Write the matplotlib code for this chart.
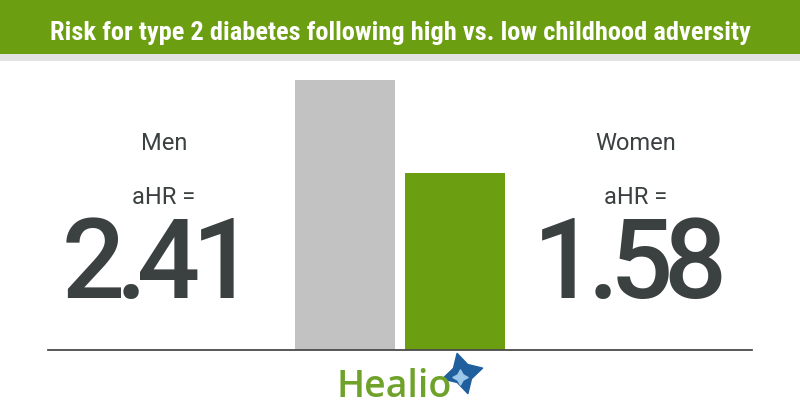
import matplotlib
matplotlib.use("Agg")
import matplotlib.pyplot as plt
from matplotlib.patches import Rectangle

# Data
groups = ["Men", "Women"]
ahr = [2.41, 1.58]
bar_colors = ["#c2c2c2", "#6b9e10"]
title = "Risk for type 2 diabetes following high vs. low childhood adversity"

W, H = 800, 420
fig = plt.figure(figsize=(8, 4.2), dpi=100)
fig.patch.set_facecolor("white")
renderer = fig.canvas.get_renderer()


def fx(px):
    return px / W


def fy(py):
    return 1 - py / H


def tracked(s, cx, base, track, **kw):
    # draw a string char by char with tighter letter spacing, centred on cx
    parts = []
    widths = []
    for ch in s:
        t = fig.text(0, 0, ch, ha="left", va="baseline", **kw)
        widths.append(t.get_window_extent(renderer).width)
        parts.append(t)
    total = sum(widths) + track * (len(s) - 1)
    x0 = cx - total / 2
    for t, w in zip(parts, widths):
        t.set_position((fx(x0), fy(base)))
        x0 += w + track


# header band
fig.patches.append(Rectangle((0, fy(54)), 1, 54 / H, transform=fig.transFigure,
                             facecolor="#6b9e10", edgecolor="none", zorder=0))
fig.patches.append(Rectangle((0, fy(61)), 1, 7 / H, transform=fig.transFigure,
                             facecolor="#e3e3e3", edgecolor="none", zorder=0))
fig.text(0.5, fy(33), title, ha="center", va="center", color="white",
         fontsize=19, fontweight="bold",
         family=["Liberation Sans Narrow", "Roboto Condensed", "Roboto"])

# bars
ax = fig.add_axes([fx(48), fy(350), fx(752 - 48), (350 - 80) / H])
x = [0, 1]
ax.bar(x, ahr, width=100 / 110, color=bar_colors, zorder=2)
ax.set_xlim((48 - 345) / 110, (752 - 345) / 110)
ax.set_ylim(0, max(ahr))
for s in ["top", "right", "left"]:
    ax.spines[s].set_visible(False)
ax.spines["bottom"].set_color("#4a4a4a")
ax.spines["bottom"].set_linewidth(1.3)
ax.spines["bottom"].set_clip_on(False)
ax.set_xticks([])
ax.set_yticks([])
ax.patch.set_alpha(0)

# side labels
txt = "#3b4040"
for i, cx in enumerate([164, 636]):
    fig.text(fx(cx), fy(150), groups[i], ha="center", va="baseline",
             fontsize=17, color=txt, family="Roboto")
    fig.text(fx(cx), fy(204), "aHR =", ha="center", va="baseline",
             fontsize=17, color=txt, family="Roboto")
    tracked(f"{ahr[i]:.2f}", cx - 6, 298, -9, fontsize=80, color=txt,
            family="Roboto", fontweight="medium")

# logo
fig.text(fx(394), fy(397), "Healio", ha="center", va="baseline",
         fontsize=27, color="#6fa22a", family="Open Sans", fontweight="semibold")
ax2 = fig.add_axes([0, 0, 1, 1])
ax2.set_xlim(0, W)
ax2.set_ylim(H, 0)
ax2.axis("off")
ax2.scatter([462], [373], marker=(4, 1, 15), s=900, color="#1f5f9e", zorder=3)
ax2.scatter([460], [377], marker=(4, 1, 0), s=120, color="#9cc8ea", zorder=4)

fig.savefig("out.png", dpi=100)
